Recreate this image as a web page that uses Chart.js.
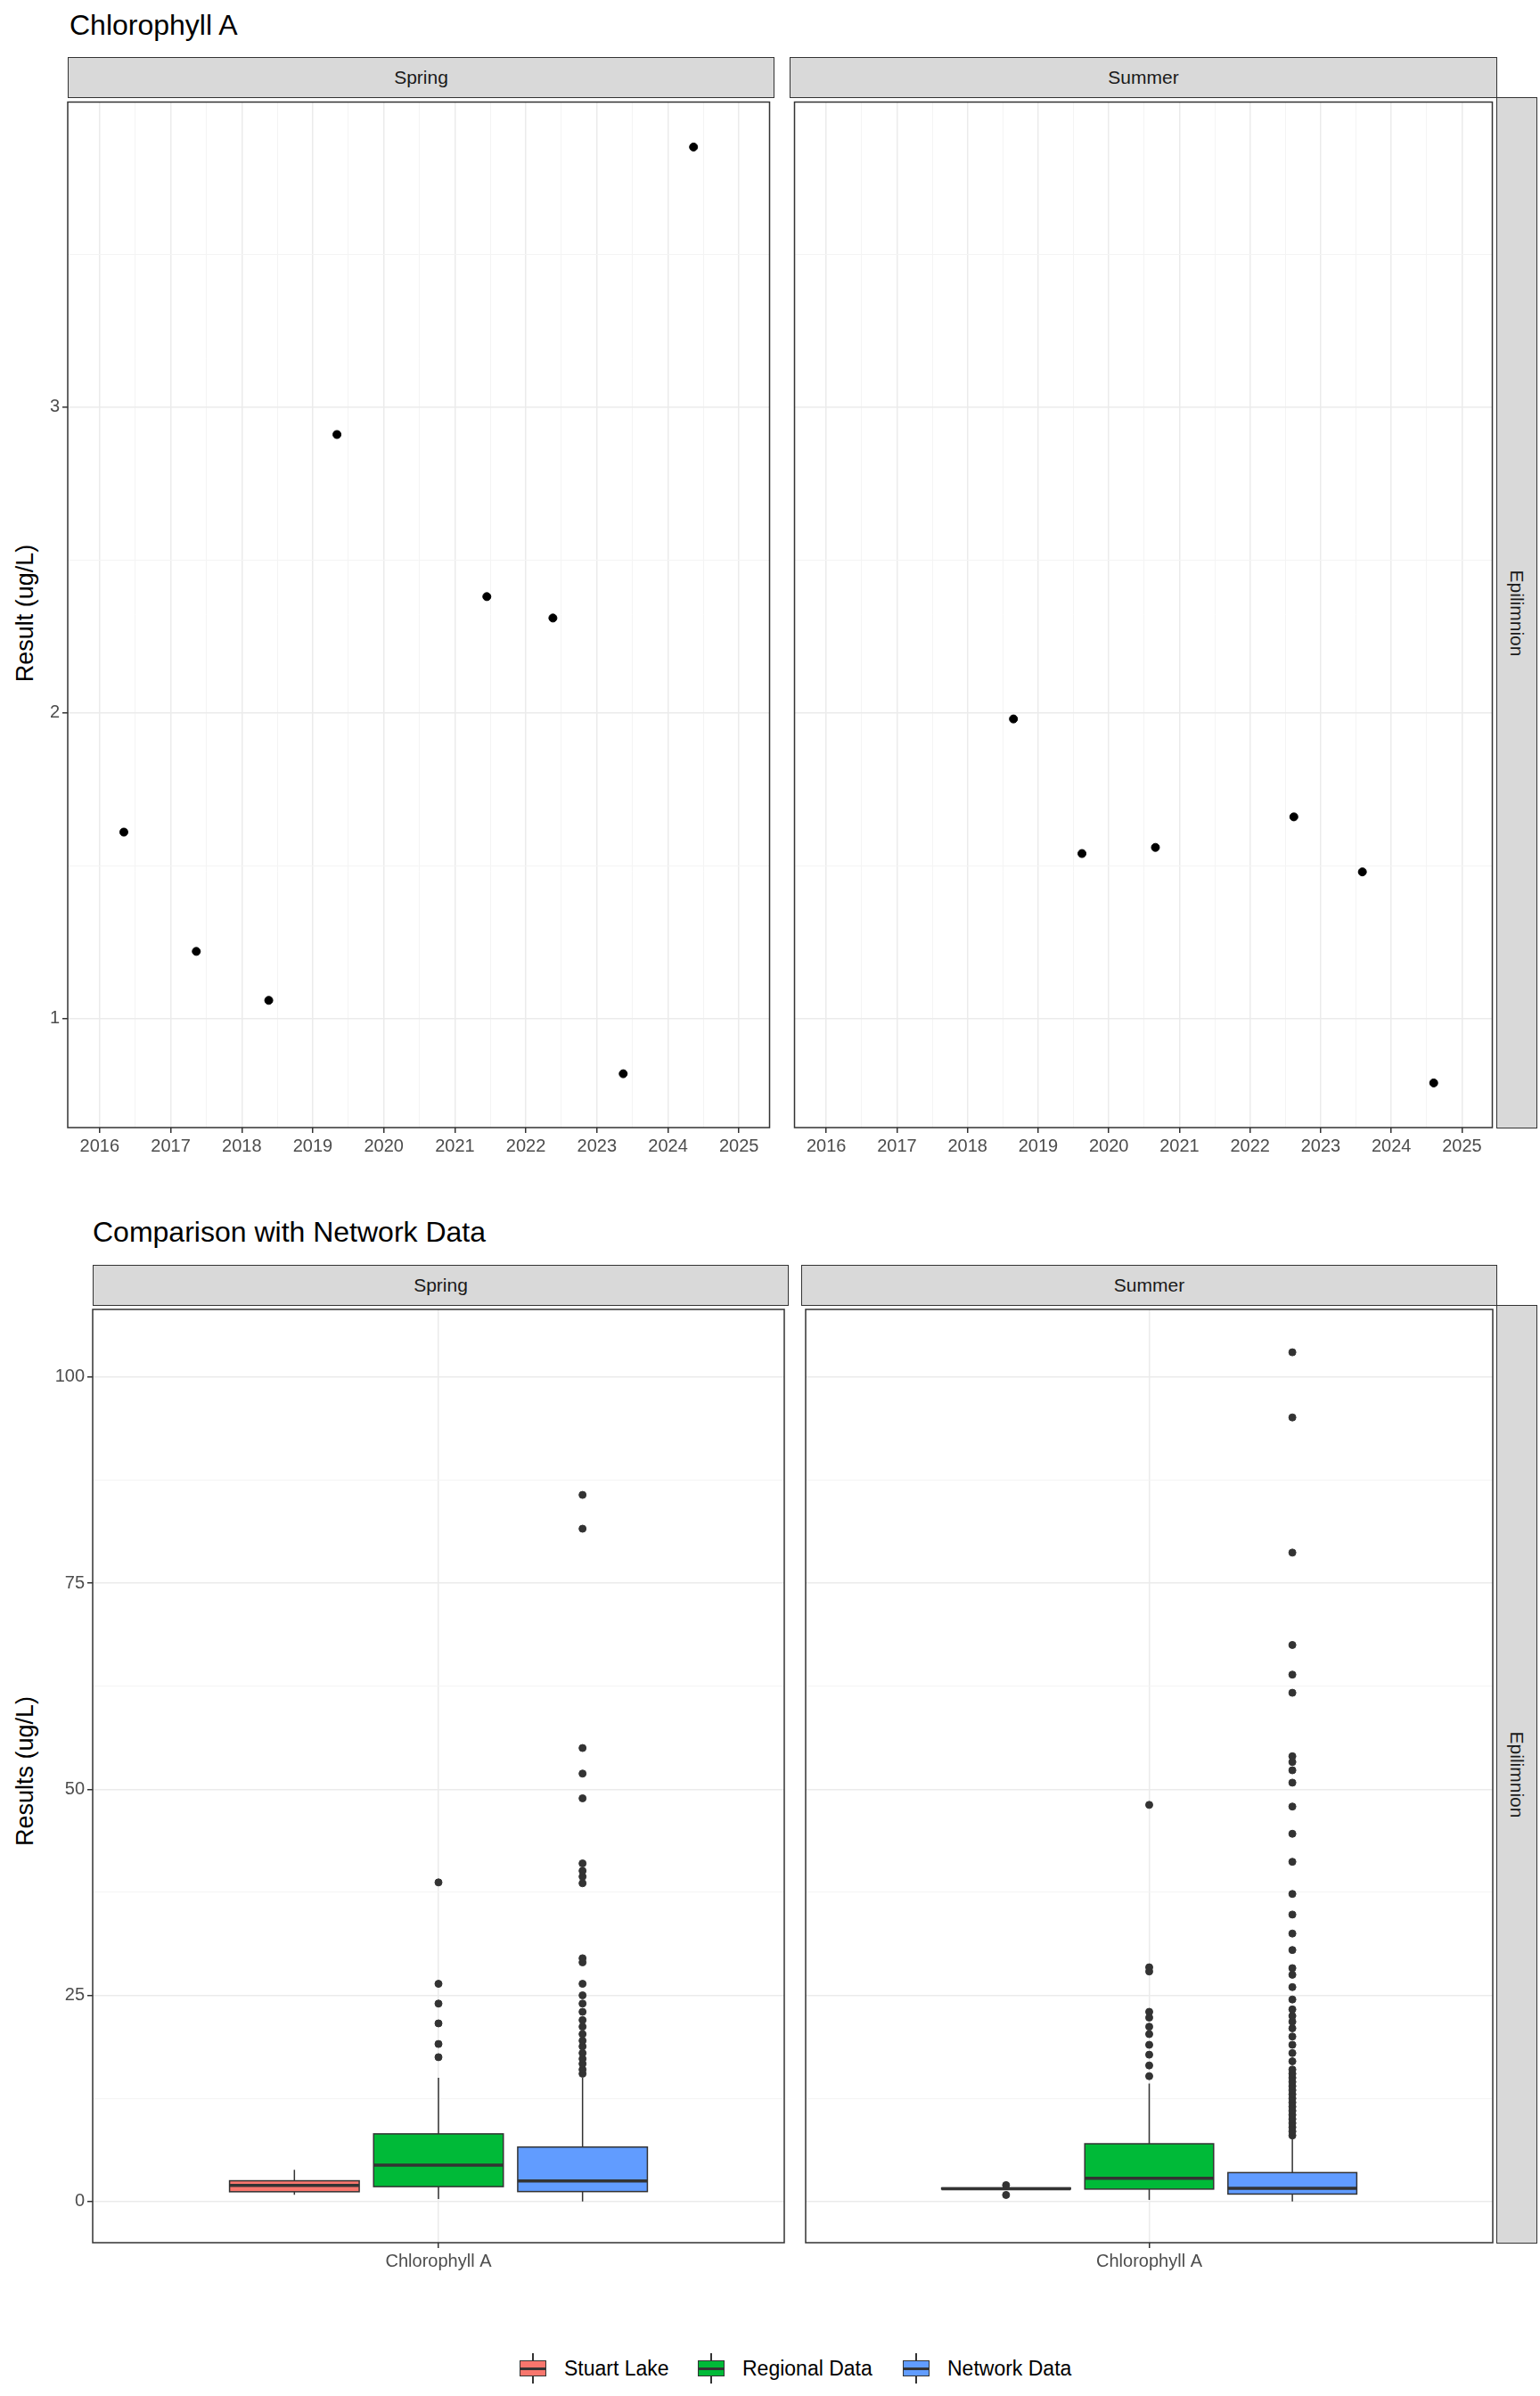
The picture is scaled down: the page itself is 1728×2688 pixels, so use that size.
<!DOCTYPE html>
<html><head><meta charset="utf-8">
<script src="https://cdn.jsdelivr.net/npm/chart.js@4"></script>
<style>
body{margin:0;background:#fff;font-family:"Liberation Sans",Arial,sans-serif;}
#page{position:relative;width:1728px;height:2688px;overflow:hidden;}
.abs{position:absolute;}
.strip{position:absolute;background:#D9D9D9;border:1.5px solid #333;box-sizing:border-box;display:flex;align-items:center;justify-content:center;font-size:21px;color:#1A1A1A;}
.vtext{transform:rotate(90deg);white-space:nowrap;}
.title{position:absolute;font-size:32px;color:#000;white-space:nowrap;}
.ytitle{position:absolute;font-size:27px;color:#000;white-space:nowrap;transform:translate(-50%,-50%) rotate(-90deg);}
.leg{position:absolute;top:2640px;display:flex;align-items:center;font-size:23px;color:#000;}
.key{position:relative;width:34px;height:34px;margin-right:18px;}
.key .bx{position:absolute;left:2px;top:8px;width:30px;height:18px;border:1.5px solid #333;box-sizing:border-box;}
.key .md{position:absolute;left:2px;top:16px;width:30px;height:2.5px;background:#333;}
.key .wk{position:absolute;left:16px;top:0;width:1.5px;height:34px;background:#333;}
</style></head><body><div id="page"></div>
<script>
// ---------- data ----------
const yearTicks=[2016,2017,2018,2019,2020,2021,2022,2023,2024,2025];
const topYTicks=[1,2,3];
const springYears=[2016.34,2017.36,2018.38,2019.34,2021.45,2022.38,2023.37,2024.36];
const springChl=[1.61,1.22,1.06,2.91,2.38,2.31,0.82,3.85];
const summerYears=[2018.65,2019.62,2020.66,2022.62,2023.59,2024.60];
const summerChl=[1.98,1.54,1.56,1.66,1.48,0.79];

const groups=['Stuart Lake','Regional Data','Network Data'];
const groupColors=['#F8766D','#00BA38','#619CFF'];
const bottomYTicks=[0,25,50,75,100];
const springLo=[0.82,0.3,0.0], springQ1=[1.18,1.8,1.2], springMed=[1.96,4.4,2.5], springQ3=[2.51,8.2,6.6], springHi=[3.85,15.0,15.0];
const summerLo=[1.48,0.2,0.0], summerQ1=[1.50,1.5,0.9], summerMed=[1.55,2.8,1.6], summerQ3=[1.64,7.0,3.5], summerHi=[1.66,14.3,7.6];
const springOutStuart=[];
const springOutRegional=[17.5,19.1,21.6,24.0,26.4,38.7];
const springOutNetwork=[15.5,16.0,16.7,17.3,18.0,18.8,19.5,20.3,21.2,22.0,23.0,24.0,25.0,26.4,29.0,29.5,38.6,39.4,40.1,41.0,48.9,51.9,55.0,81.6,85.7];
const summerOutStuart=[0.79,1.98];
const summerOutRegional=[15.2,16.5,17.8,19.0,20.3,21.2,22.3,23.0,27.9,28.4,48.1];
const summerOutNetwork=[8.0,8.5,9.0,9.5,10.0,10.5,11.0,11.5,12.0,12.5,13.0,13.5,14.0,14.5,15.0,15.5,16.0,17.0,18.0,19.0,20.0,21.0,21.8,22.5,23.3,24.5,26.0,27.5,28.3,30.5,32.5,34.8,37.3,41.2,44.6,47.9,50.8,52.3,53.3,54.0,61.7,63.9,67.5,78.7,95.1,103.0];
const categoryLabel='Chlorophyll A';

// ---------- helpers ----------
const page=document.getElementById('page');
function el(cls,css,html){const d=document.createElement('div');d.className=cls;Object.assign(d.style,css);if(html!==undefined)d.innerHTML=html;page.appendChild(d);return d;}
function canvasAt(l,t,w,h){const d=el('abs',{left:l+'px',top:t+'px',width:w+'px',height:h+'px'});const c=document.createElement('canvas');d.appendChild(c);return c;}
const borderPlugin={id:'border',afterDraw(c){const a=c.chartArea,x=c.ctx;x.save();x.strokeStyle='#333';x.lineWidth=1.5;x.strokeRect(a.left,a.top,a.right-a.left,a.bottom-a.top);x.restore();}};
const FONT={family:'"Liberation Sans", Arial, sans-serif',size:20};
function zeroPad(s){s.paddingTop=0;s.paddingBottom=0;s.paddingLeft=0;s.paddingRight=0;}

function gridScale(min,max,ticks,minorStep,fitW,fitH,showLabels,isX){
  return {type:'linear',min,max,
    afterBuildTicks(s){const v=[];const first=Math.ceil(min/minorStep)*minorStep;for(let t=first;t<=max+1e-9;t+=minorStep)v.push({value:+t.toFixed(4)});s.ticks=v;},
    afterFit(s){if(isX)s.height=fitH;else s.width=fitW;zeroPad(s);},
    grid:{color:c=>ticks.includes(c.tick.value)?'#EBEBEB':'#F4F4F4',lineWidth:c=>ticks.includes(c.tick.value)?1.5:1,
      tickColor:c=>ticks.includes(c.tick.value)&&showLabels?'#333':'rgba(0,0,0,0)',tickLength:6,drawTicks:true},
    border:{display:false},
    ticks:{display:showLabels,autoSkip:false,maxRotation:0,color:'#4D4D4D',font:FONT,padding:3,
      callback:v=>ticks.includes(v)?String(v):''}
  };
}

function topChart(l,t,w,h,xs,ys,showY){
  new Chart(canvasAt(l,t,w,h),{type:'scatter',
    data:{datasets:[{data:xs.map((x,i)=>({x,y:ys[i]})),backgroundColor:'#000',borderColor:'#000',pointRadius:4.5,clip:false}]},
    options:{responsive:true,maintainAspectRatio:false,animation:false,devicePixelRatio:1,
      layout:{padding:0},plugins:{legend:{display:false},tooltip:{enabled:false}},
      scales:{x:gridScale(2015.55,2025.43,yearTicks,0.5,0,45,true,true),
              y:gridScale(0.644,3.997,topYTicks,0.5,showY?76:0,0,showY,false)}},
    plugins:[borderPlugin]});
}

const boxPos=[0.75,1.0,1.25], boxHalf=0.1125;
function bottomChart(l,t,w,h,lo,q1,med,q3,hi,outs,showY){
  const boxPlugin={id:'box',beforeDatasetsDraw(c){
    const x=c.scales.x,y=c.scales.y,ctx=c.ctx;ctx.save();
    groups.forEach((g,i)=>{
      const cx=x.getPixelForValue(boxPos[i]),x0=x.getPixelForValue(boxPos[i]-boxHalf),x1=x.getPixelForValue(boxPos[i]+boxHalf);
      ctx.strokeStyle='#333';ctx.lineWidth=1.5;
      ctx.beginPath();ctx.moveTo(cx,y.getPixelForValue(hi[i]));ctx.lineTo(cx,y.getPixelForValue(q3[i]));
      ctx.moveTo(cx,y.getPixelForValue(q1[i]));ctx.lineTo(cx,y.getPixelForValue(lo[i]));ctx.stroke();
      const yt=y.getPixelForValue(q3[i]),yb=y.getPixelForValue(q1[i]);
      ctx.fillStyle=groupColors[i];ctx.fillRect(x0,yt,x1-x0,yb-yt);ctx.strokeRect(x0,yt,x1-x0,yb-yt);
      ctx.lineWidth=3.5;const ym=y.getPixelForValue(med[i]);ctx.beginPath();ctx.moveTo(x0,ym);ctx.lineTo(x1,ym);ctx.stroke();
    });ctx.restore();}};
  new Chart(canvasAt(l,t,w,h),{type:'scatter',
    data:{datasets:outs.map((o,i)=>({data:o.map(v=>({x:boxPos[i],y:v})),backgroundColor:'#333',borderColor:'#333',pointRadius:4,clip:false}))},
    options:{responsive:true,maintainAspectRatio:false,animation:false,devicePixelRatio:1,
      layout:{padding:0},plugins:{legend:{display:false},tooltip:{enabled:false}},
      scales:{x:{type:'linear',min:0.4,max:1.6,afterBuildTicks(s){s.ticks=[{value:1}];},afterFit(s){s.height=45;zeroPad(s);},
                 grid:{color:'#EBEBEB',lineWidth:1.5,tickColor:'#333',tickLength:6},border:{display:false},
                 ticks:{color:'#4D4D4D',font:FONT,padding:3,maxRotation:0,callback:()=>categoryLabel}},
              y:gridScale(-5.0,108.2,bottomYTicks,12.5,showY?104:0,0,showY,false)}},
    plugins:[boxPlugin,borderPlugin]});
}

// ---------- layout ----------
el('title',{left:'78px',top:'10px'},'Chlorophyll A');
el('strip',{left:'76px',top:'64px',width:'793px',height:'46px'},'Spring');
el('strip',{left:'886px',top:'64px',width:'794px',height:'46px'},'Summer');
el('strip',{left:'1679px',top:'109px',width:'46px',height:'1157px'},'<span class="vtext">Epilimnion</span>');
el('ytitle',{left:'28px',top:'688px'},'Result (ug/L)');
topChart(0,109,869,1201,springYears,springChl,true);
topChart(886,109,794,1201,summerYears,summerChl,false);

el('title',{left:'104px',top:'1364px'},'Comparison with Network Data');
el('strip',{left:'104px',top:'1419px',width:'781px',height:'46px'},'Spring');
el('strip',{left:'899px',top:'1419px',width:'781px',height:'46px'},'Summer');
el('strip',{left:'1679px',top:'1464px',width:'46px',height:'1053px'},'<span class="vtext">Epilimnion</span>');
el('ytitle',{left:'28px',top:'1987px'},'Results (ug/L)');
bottomChart(0,1464,885,1097,springLo,springQ1,springMed,springQ3,springHi,[springOutStuart,springOutRegional,springOutNetwork],true);
bottomChart(899,1464,781,1097,summerLo,summerQ1,summerMed,summerQ3,summerHi,[summerOutStuart,summerOutRegional,summerOutNetwork],false);

const legX=[581,781,1011];
groups.forEach((g,i)=>{el('leg',{left:legX[i]+'px'},`<div class="key"><div class="wk"></div><div class="bx" style="background:${groupColors[i]}"></div><div class="md"></div></div>${g}`);});
</script></body></html>
